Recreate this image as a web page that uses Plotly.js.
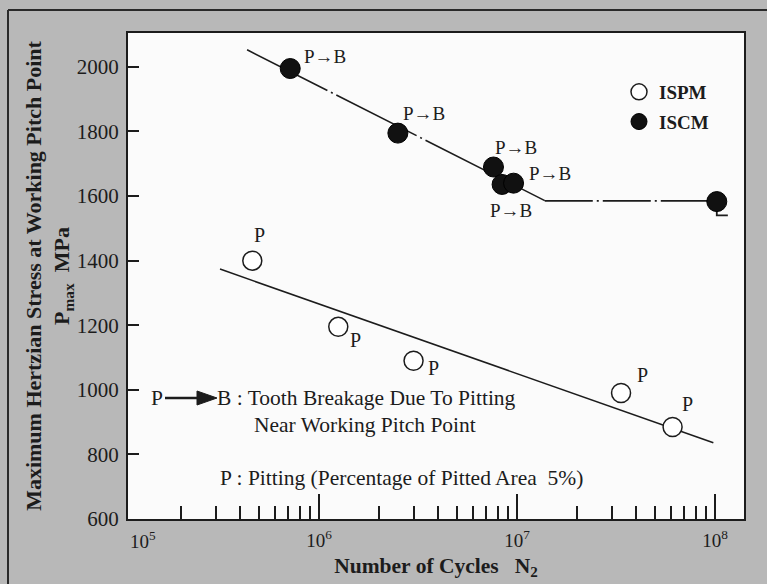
<!DOCTYPE html>
<html><head><meta charset="utf-8">
<script src="https://cdn.plot.ly/plotly-3.0.1.min.js"></script>
<style>html,body{margin:0;padding:0;background:#b8b8b8;} #chart{width:767px;height:584px;}</style>
</head><body><div id="chart"></div>
<script>
// ---- data ----
const ispmCycles = [4.6e5, 1.25e6, 3.0e6, 3.35e7, 6.1e7];
const ispmStress = [1400, 1195, 1090, 990, 885];
const ispmLabels = ['P', 'P', 'P', 'P', 'P'];

const iscmCycles = [7.15e5, 2.5e6, 7.6e6, 8.4e6, 9.6e6, 1.02e8];
const iscmStress = [1995, 1795, 1690, 1636, 1640, 1583];
const iscmLabels = ['P\u2192B', 'P\u2192B', 'P\u2192B', 'P\u2192B', 'P\u2192B', ''];

const ispmFitCycles = [3.16e5, 9.8e7];
const ispmFitStress = [1374, 836];
const iscmFitCycles = [4.33e5, 1.38e7];
const iscmFitStress = [2053, 1586];
const iscmLimitCycles = [1.38e7, 1.02e8];
const iscmLimitStress = [1585, 1585];
const runoutCycles = [1.02e8, 1.02e8, 1.16e8];
const runoutStress = [1583, 1540, 1540];

const yTickVals = [600, 800, 1000, 1200, 1400, 1600, 1800, 2000];
const xMajorTicks = [1e6, 1e7, 1e8];
const xMajorLabels = ['10<sup>6</sup>', '10<sup>7</sup>', '10<sup>8</sup>'];

// ---- styling ----
const ispmLabelOffsets = [[7, 26], [17, -13], [20, -7], [21, 18], [15, 23]];
const iscmLabelOffsets = [[35, 12], [26, 20], [23, 20], [9, -26], [36, 10], [0, 0]];

const xMinor = [];
for (let e = 5; e < 8; e++) for (let m = 2; m <= 9; m++) xMinor.push(m * Math.pow(10, e));

const FONT = 'Liberation Serif, Times New Roman, serif';
const INK = '#1c1c1c';

const traces = [
  {x: ispmFitCycles, y: ispmFitStress, mode: 'lines', line: {color: INK, width: 1.6}, showlegend: false, hoverinfo: 'skip'},
  {x: iscmFitCycles, y: iscmFitStress, mode: 'lines', line: {color: INK, width: 1.6, dash: '90px,4px,2px,4px'}, showlegend: false, hoverinfo: 'skip'},
  {x: iscmLimitCycles, y: iscmLimitStress, mode: 'lines', line: {color: INK, width: 1.6, dash: '48px,4px,2px,4px'}, showlegend: false, hoverinfo: 'skip'},
  {x: runoutCycles, y: runoutStress, mode: 'lines', line: {color: INK, width: 1.8}, showlegend: false, hoverinfo: 'skip'},
  {x: ispmCycles, y: ispmStress, mode: 'markers', name: 'ISPM', legendgroup: 'a',
   marker: {symbol: 'circle', size: 19, color: '#ffffff', line: {color: INK, width: 1.5}}},
  {x: iscmCycles, y: iscmStress, mode: 'markers', name: 'ISCM', legendgroup: 'b',
   marker: {symbol: 'circle', size: 20, color: '#111111', line: {color: '#000', width: 1}}}
];

const annotations = [];
ispmCycles.forEach((c, i) => annotations.push({
  x: Math.log10(c), y: ispmStress[i], xref: 'x', yref: 'y', text: ispmLabels[i], showarrow: false,
  xshift: ispmLabelOffsets[i][0], yshift: ispmLabelOffsets[i][1], font: {family: FONT, size: 20, color: INK}
}));
iscmCycles.forEach((c, i) => { if (iscmLabels[i]) annotations.push({
  x: Math.log10(c), y: iscmStress[i], xref: 'x', yref: 'y', text: iscmLabels[i], showarrow: false,
  xshift: iscmLabelOffsets[i][0], yshift: iscmLabelOffsets[i][1], font: {family: FONT, size: 19, color: INK}
}); });

const px = v => (v - 128) / 616, py = v => (519 - v) / 486;
const noteFont = {family: FONT, size: 21.5, color: INK};
annotations.push(
  {xref: 'paper', yref: 'paper', x: px(149), y: py(398), xanchor: 'left', yanchor: 'middle', text: 'P', showarrow: false, font: noteFont},
  {xref: 'paper', yref: 'paper', x: px(215), y: py(398), xanchor: 'left', yanchor: 'middle', text: 'B : Tooth Breakage Due To Pitting', showarrow: false, font: noteFont},
  {xref: 'paper', yref: 'paper', x: px(252), y: py(425), xanchor: 'left', yanchor: 'middle', text: 'Near Working Pitch Point', showarrow: false, font: noteFont},
  {xref: 'paper', yref: 'paper', x: px(218), y: py(478), xanchor: 'left', yanchor: 'middle', text: 'P : Pitting (Percentage of Pitted Area\u00a0\u00a05%)', showarrow: false, font: noteFont},
  {xref: 'paper', yref: 'paper', x: 0, y: py(540), xanchor: 'left', yanchor: 'middle', text: '10<sup>5</sup>', showarrow: false, font: {family: FONT, size: 19, color: INK}}
);

// arrow of the "P -> B" legend note
const arrowPath = 'M ' + px(197) + ' ' + py(391) + ' L ' + px(217) + ' ' + py(398) + ' L ' + px(197) + ' ' + py(405) + ' Z';

const layout = {
  width: 767, height: 584,
  margin: {l: 128, r: 23, t: 33, b: 65},
  paper_bgcolor: '#b8b8b8', plot_bgcolor: '#fbfbfb',
  font: {family: FONT, color: INK},
  showlegend: true,
  legend: {x: px(619), y: py(73), xanchor: 'left', yanchor: 'top', bgcolor: 'rgba(0,0,0,0)',
           font: {family: FONT, size: 19, color: INK, weight: 'bold'}, traceorder: 'grouped', tracegroupgap: 2},
  xaxis: {
    type: 'log', range: [5.035, 8.146], showgrid: false, zeroline: false,
    showline: true, linecolor: INK, linewidth: 2, mirror: true,
    tickmode: 'array', tickvals: xMajorTicks, ticktext: xMajorLabels,
    ticks: 'inside', ticklen: 25, tickwidth: 2, tickcolor: INK, ticklabelstandoff: 3,
    tickfont: {family: FONT, size: 19, color: INK},
    minor: {tickmode: 'array', tickvals: xMinor, ticks: 'inside', ticklen: 13, tickwidth: 2, tickcolor: INK, showgrid: false},
    title: {text: 'Number of Cycles\u00a0\u00a0\u00a0N<sub>2</sub>', font: {family: FONT, size: 21.5, color: INK, weight: 'bold'}, standoff: 8}
  },
  yaxis: {
    range: [600, 2105], showgrid: false, zeroline: false,
    showline: true, linecolor: INK, linewidth: 2, mirror: true,
    tickmode: 'array', tickvals: yTickVals,
    ticks: 'inside', ticklen: 11, tickwidth: 2, tickcolor: INK, ticklabelstandoff: 3,
    tickfont: {family: FONT, size: 21, color: INK},
    title: {text: 'Maximum Hertzian Stress at Working Pitch Point<br>P<sub>max</sub>\u00a0\u00a0MPa', font: {family: FONT, size: 22, color: INK, weight: 'bold'}, standoff: 0}
  },
  annotations: annotations,
  shapes: [
    {type: 'line', xref: 'paper', yref: 'paper', x0: px(8), x1: px(8), y0: py(10), y1: py(590), line: {color: '#2a2a2a', width: 2}},
    {type: 'line', xref: 'paper', yref: 'paper', x0: px(8), x1: px(770), y0: py(10), y1: py(10), line: {color: '#2a2a2a', width: 2}},
    {type: 'line', xref: 'paper', yref: 'paper', x0: px(165), x1: px(200), y0: py(398), y1: py(398), line: {color: INK, width: 2.4}},
    {type: 'path', xref: 'paper', yref: 'paper', path: arrowPath, fillcolor: INK, line: {color: INK, width: 1}}
  ]
};

Plotly.newPlot('chart', traces, layout, {displayModeBar: false, staticPlot: true});
</script>
</body></html>
